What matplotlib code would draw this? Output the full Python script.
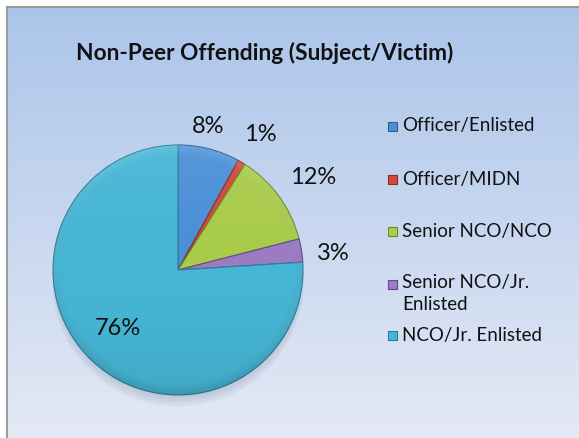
import numpy as np
import matplotlib.pyplot as plt
from matplotlib.patches import Circle, Rectangle

# Non-peer offending, share of cases by subject/victim pairing
categories = ['Officer/Enlisted', 'Officer/MIDN', 'Senior NCO/NCO',
              'Senior NCO/Jr.\nEnlisted', 'NCO/Jr. Enlisted']
shares = [8, 1, 12, 3, 76]
colors = ['#4a90d8', '#d04a3c', '#aacc4a', '#9c7cc4', '#45b6d6']
edges = ['#2e5f96', '#8e2a22', '#6f8a28', '#65468e', '#2a7f9a']

# where each percentage sits: (distance in radii, angle in degrees)
label_pos = [(1.17, 78), (1.27, 58.6), (1.31, 34.6), (1.25, 6), (0.67, 224)]

W, H = 579, 438
fig = plt.figure(figsize=(W / 100, H / 100), dpi=100)
fig.patch.set_facecolor('white')

# chart area background: vertical blue gradient with a grey frame
bg = fig.add_axes([0, 0, 1, 1])
bg.set_xlim(0, W)
bg.set_ylim(H, 0)
bg.axis('off')
top = np.array([171, 197, 234]) / 255
bot = np.array([228, 233, 245]) / 255
t = np.linspace(0, 1, 256)[:, None]
grad = top + (bot - top) * t
grad = np.repeat(grad[:, None, :], 2, axis=1)
bg.imshow(grad, extent=(7, W, H, 7), aspect='auto', interpolation='bilinear')
bg.plot([7, 7], [H, 7], color='#9a9a9a', lw=1.5)
bg.plot([7, W], [7, 7], color='#9a9a9a', lw=1.5)

fig.text(265 / W, 1 - 53 / H, 'Non-Peer Offending (Subject/Victim)',
         ha='center', va='center', fontsize=16.4, fontweight='bold',
         family='Lato', color='#111111')

# pie
cx, cy, r = 178, 270, 125
ax = fig.add_axes([(cx - r) / W, (H - cy - r) / H, 2 * r / W, 2 * r / H])
ax.set_xlim(-1, 1)
ax.set_ylim(-1, 1)
ax.axis('off')

# soft drop shadow under the pie
for k in range(5):
    ax.add_patch(Circle((0.0, -0.045 - k * 0.01), 0.97 + k * 0.008,
                        color='#6a7890', alpha=0.05, zorder=0, clip_on=False))

wedges, _ = ax.pie(shares, colors=colors, startangle=90, counterclock=False,
                   wedgeprops=dict(linewidth=0.8), radius=1.0)
for w, ec in zip(wedges, edges):
    w.set_edgecolor(ec)
    w.set_zorder(2)

# light-to-dark shading over the pie surface
n = 300
yy, xx = np.mgrid[1:-1:n * 1j, -1:1:n * 1j]
rr = np.hypot(xx, yy)
shade = np.zeros((n, n, 4))
lit = np.clip(0.5 - yy * 0.5, 0, 1)
shade[..., :3] = (1 - lit[..., None])
alpha = 0.08 * np.abs(yy) + np.clip((rr - 0.92) / 0.08, 0, 1) * 0.10
shade[..., 3] = alpha
im = ax.imshow(shade, extent=(-1, 1, -1, 1), zorder=3, interpolation='bilinear')
im.set_clip_path(Circle((0, 0), 1.0, transform=ax.transData))
ax.set_xlim(-1, 1)
ax.set_ylim(-1, 1)

for v, (d, a) in zip(shares, label_pos):
    ang = np.deg2rad(a)
    ax.text(d * np.cos(ang), d * np.sin(ang), f'{v}%', ha='center',
            va='center', fontsize=17, family='Lato', color='#111111',
            zorder=5, clip_on=False)

# legend with square swatches
leg_y = [126, 179, 231, 284, 335]
for lab, c, ec, y in zip(categories, colors, edges, leg_y):
    bg.add_patch(Rectangle((388, y - 4.5), 9, 9, facecolor=c, edgecolor=ec,
                           lw=0.8, zorder=4))
    if '\n' in lab:
        bg.text(402, y - 10, lab, ha='left', va='top', fontsize=13.5,
                family='Lato', color='#111111', linespacing=1.33, zorder=4)
    else:
        bg.text(402, y, lab, ha='left', va='center', fontsize=13.5,
                family='Lato', color='#111111', zorder=4)

fig.savefig('out.png', dpi=100)
